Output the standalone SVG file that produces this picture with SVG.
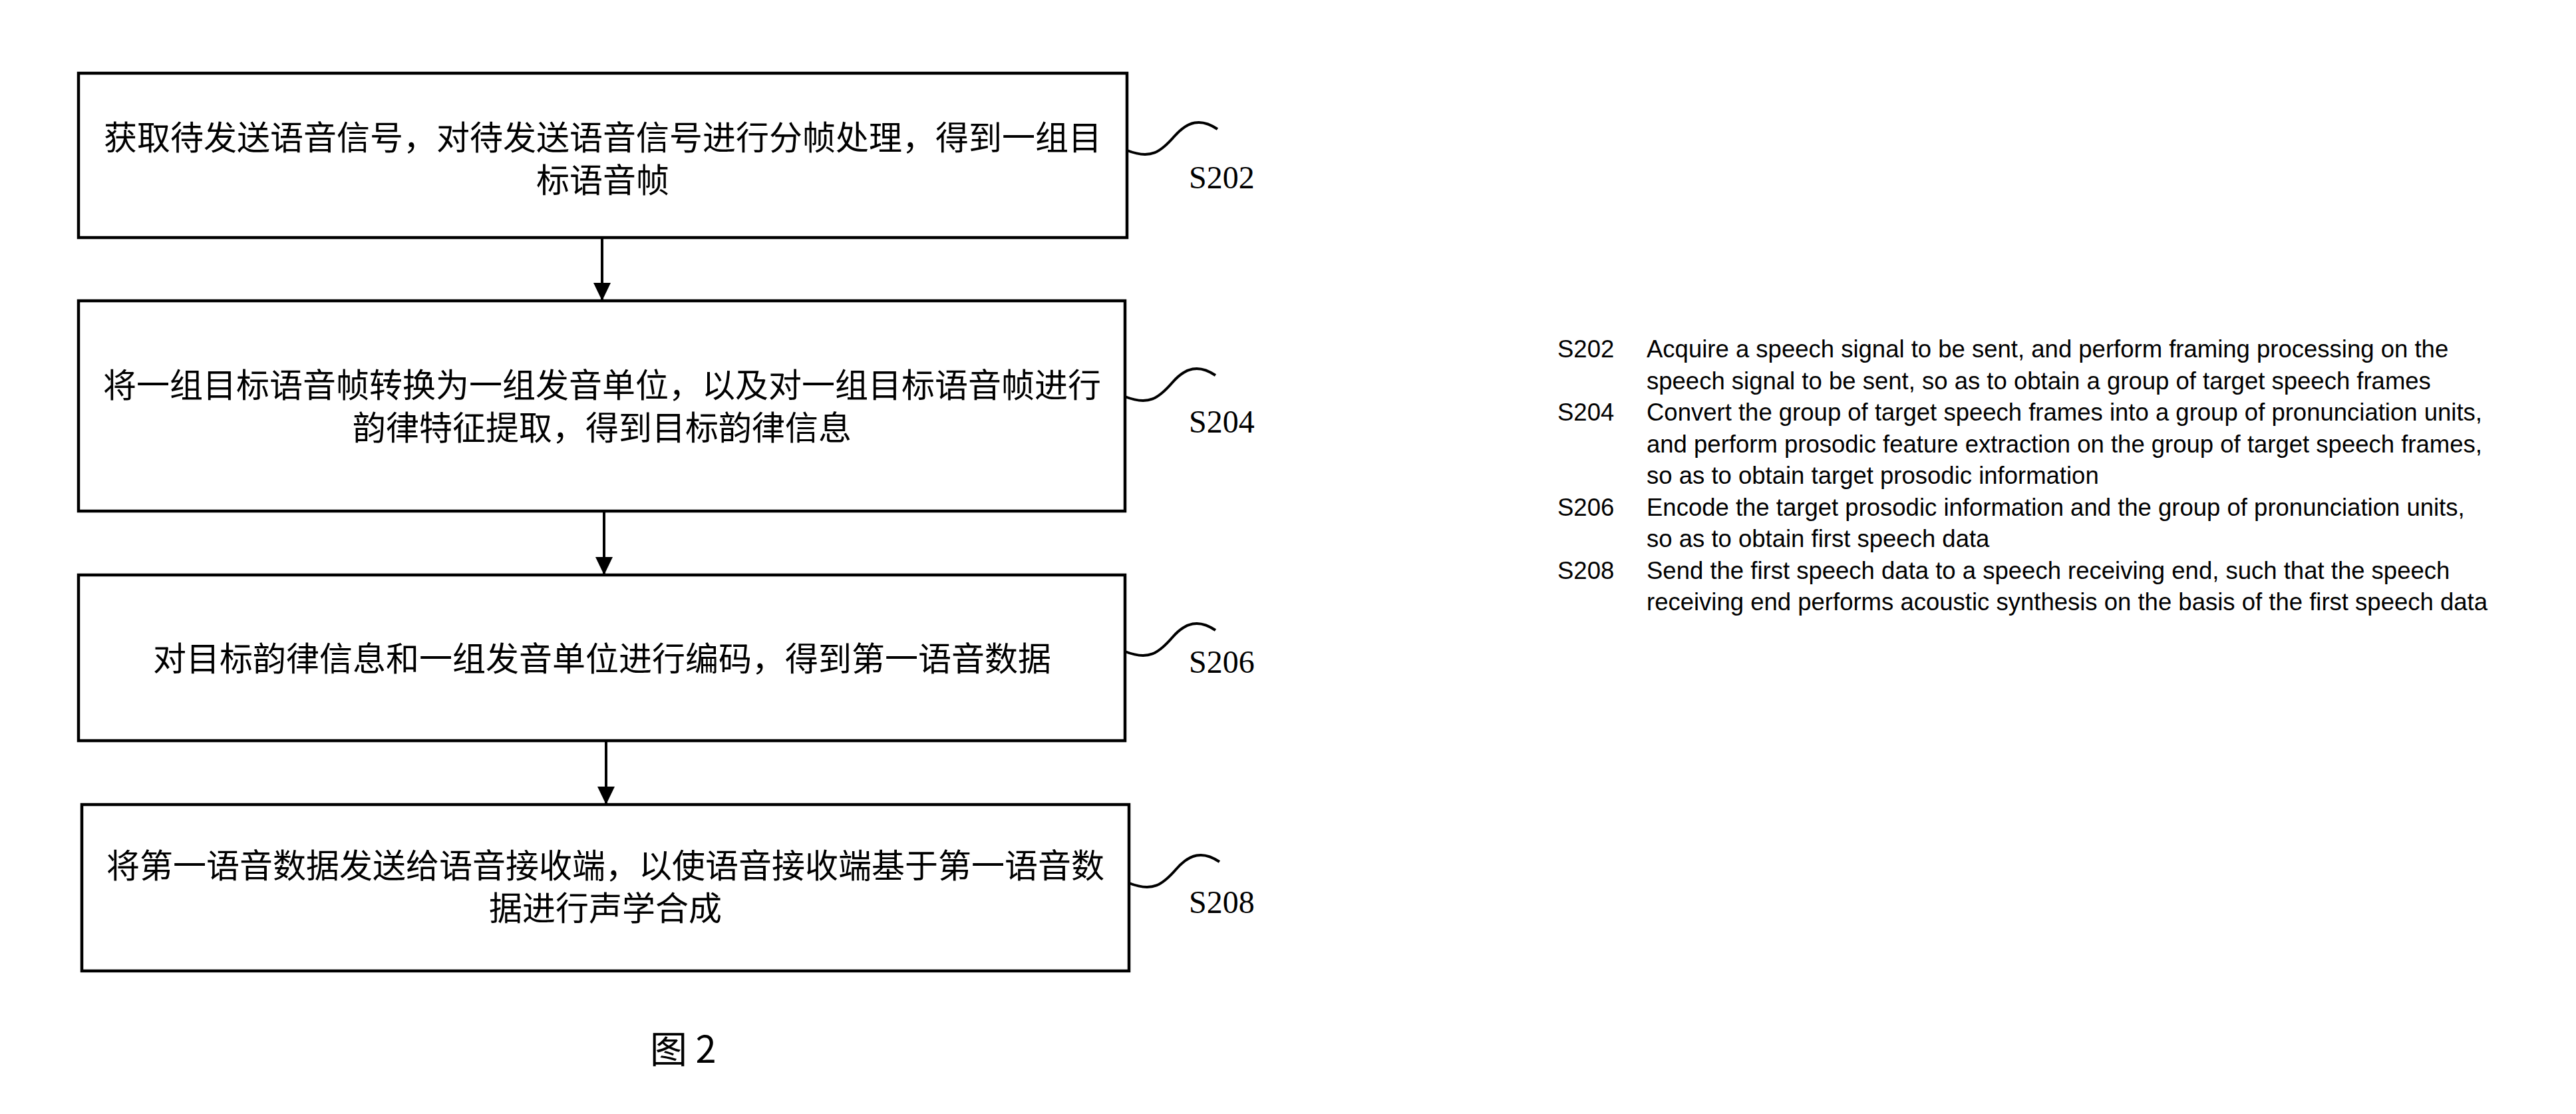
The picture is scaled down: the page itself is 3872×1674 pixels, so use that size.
<svg xmlns="http://www.w3.org/2000/svg" width="3872" height="1674" viewBox="0 0 3872 1674">
<style>
.box{fill:#fff;stroke:#000;stroke-width:4.5}
.cn{font-family:"Noto Sans CJK SC","Liberation Serif",serif;font-size:50px;fill:#000;text-anchor:middle}
.lbl{font-family:"Liberation Serif",serif;font-size:48px;fill:#000}
.sq{fill:none;stroke:#000;stroke-width:4}
.conn{stroke:#000;stroke-width:4;fill:none}
.en{font-family:"Liberation Sans",Arial,sans-serif;font-size:36.5px;fill:#000}
.cap{font-family:"Noto Sans CJK SC","Liberation Serif",serif;font-size:56px;fill:#000}
</style>
<defs>
<marker id="ah" markerUnits="userSpaceOnUse" markerWidth="28" markerHeight="26" refX="27" refY="13" orient="auto">
<path d="M0,0 L27,13 L0,26 Z" fill="#000"/>
</marker>
</defs>
<rect width="3872" height="1674" fill="#fff"/>
<g id="S202">
<rect class="box" x="118" y="110" width="1576" height="247"/>
<text class="cn" x="906" y="225">获取待发送语音信号，对待发送语音信号进行分帧处理，得到一组目</text>
<text class="cn" x="906" y="289">标语音帧</text>
<path class="sq" d="M1694,226 c36,14 51,2 71,-21 c20,-23 40,-28 65,-11"/>
<text class="lbl" x="1787" y="283">S202</text>
</g>
<g id="S204">
<rect class="box" x="118" y="452" width="1573" height="316"/>
<text class="cn" x="905" y="597">将一组目标语音帧转换为一组发音单位，以及对一组目标语音帧进行</text>
<text class="cn" x="905" y="661">韵律特征提取，得到目标韵律信息</text>
<path class="sq" d="M1691,596 c36,14 51,2 71,-21 c20,-23 40,-28 65,-11"/>
<text class="lbl" x="1787" y="650">S204</text>
</g>
<g id="S206">
<rect class="box" x="118" y="864" width="1573" height="249"/>
<text class="cn" x="905" y="1008">对目标韵律信息和一组发音单位进行编码，得到第一语音数据</text>
<path class="sq" d="M1691,979 c36,14 51,2 71,-21 c20,-23 40,-28 65,-11"/>
<text class="lbl" x="1787" y="1011">S206</text>
</g>
<g id="S208">
<rect class="box" x="123" y="1209" width="1574" height="250"/>
<text class="cn" x="910" y="1319">将第一语音数据发送给语音接收端，以使语音接收端基于第一语音数</text>
<text class="cn" x="910" y="1383">据进行声学合成</text>
<path class="sq" d="M1697,1327 c36,14 51,2 71,-21 c20,-23 40,-28 65,-11"/>
<text class="lbl" x="1787" y="1372">S208</text>
</g>
<g id="connectors">
<line class="conn" x1="905" y1="357" x2="905" y2="452" marker-end="url(#ah)"/>
<line class="conn" x1="908" y1="768" x2="908" y2="864" marker-end="url(#ah)"/>
<line class="conn" x1="911" y1="1113" x2="911" y2="1209" marker-end="url(#ah)"/>
</g>
<g id="caption">
<text class="cap" x="977" y="1597">图 2</text>
</g>
<g id="legend">
<text class="en" x="2341" y="537">S202</text>
<text class="en" x="2475" y="537">Acquire a speech signal to be sent, and perform framing processing on the</text>
<text class="en" x="2475" y="584.5">speech signal to be sent, so as to obtain a group of target speech frames</text>
<text class="en" x="2341" y="632">S204</text>
<text class="en" x="2475" y="632">Convert the group of target speech frames into a group of pronunciation units,</text>
<text class="en" x="2475" y="679.5">and perform prosodic feature extraction on the group of target speech frames,</text>
<text class="en" x="2475" y="727">so as to obtain target prosodic information</text>
<text class="en" x="2341" y="774.5">S206</text>
<text class="en" x="2475" y="774.5">Encode the target prosodic information and the group of pronunciation units,</text>
<text class="en" x="2475" y="822">so as to obtain first speech data</text>
<text class="en" x="2341" y="869.5">S208</text>
<text class="en" x="2475" y="869.5">Send the first speech data to a speech receiving end, such that the speech</text>
<text class="en" x="2475" y="917">receiving end performs acoustic synthesis on the basis of the first speech data</text>
</g>
</svg>
